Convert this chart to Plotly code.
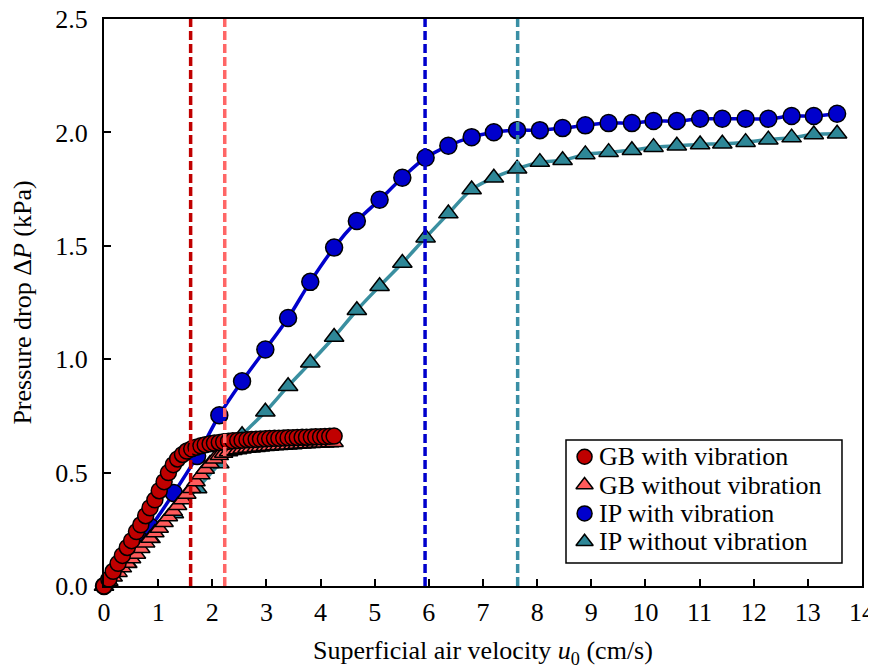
import plotly.graph_objects as go

# ---- data ----
gb_x = [0, 0.09, 0.17, 0.26, 0.34, 0.43, 0.51, 0.60, 0.68, 0.77, 0.85, 0.94, 1.02, 1.11, 1.19,
        1.28, 1.36, 1.45, 1.53, 1.62, 1.70, 1.79, 1.87, 1.96, 2.04, 2.13, 2.21, 2.30, 2.38, 2.47,
        2.55, 2.64, 2.72, 2.81, 2.89, 2.98, 3.06, 3.15, 3.23, 3.32, 3.40, 3.49, 3.57, 3.66, 3.74,
        3.83, 3.91, 4.00, 4.08, 4.17, 4.25]
gb_with = [0, 0.03, 0.065, 0.10, 0.135, 0.17, 0.20, 0.24, 0.27, 0.31, 0.345, 0.38, 0.42, 0.46, 0.50,
           0.535, 0.56, 0.58, 0.595, 0.605, 0.612, 0.618, 0.623, 0.627, 0.630, 0.633, 0.636, 0.638,
           0.640, 0.642, 0.643, 0.645, 0.646, 0.647, 0.648, 0.649, 0.650, 0.651, 0.652, 0.653, 0.654,
           0.654, 0.655, 0.656, 0.656, 0.657, 0.658, 0.658, 0.659, 0.660, 0.661]
gb_without = [0, 0.02, 0.04, 0.06, 0.08, 0.10, 0.12, 0.14, 0.165, 0.19, 0.21, 0.235, 0.255, 0.28, 0.305,
              0.33, 0.355, 0.38, 0.405, 0.43, 0.46, 0.49, 0.515, 0.54, 0.56, 0.575, 0.585, 0.592,
              0.597, 0.601, 0.604, 0.607, 0.609, 0.611, 0.613, 0.615, 0.616, 0.618, 0.619, 0.621, 0.622,
              0.623, 0.625, 0.626, 0.627, 0.628, 0.629, 0.630, 0.631, 0.632, 0.633]

ip_x = [0, 0.43, 0.86, 1.29, 1.72, 2.13, 2.55, 2.98, 3.40, 3.81, 4.25, 4.67, 5.09, 5.51, 5.94, 6.36,
        6.79, 7.20, 7.63, 8.05, 8.47, 8.89, 9.32, 9.75, 10.15, 10.58, 11.01, 11.42, 11.85, 12.27,
        12.70, 13.11, 13.54]
ip_with = [0, 0.13, 0.26, 0.41, 0.573, 0.753, 0.903, 1.043, 1.182, 1.341, 1.492, 1.609, 1.703, 1.800,
           1.888, 1.941, 1.979, 2.001, 2.010, 2.010, 2.019, 2.031, 2.041, 2.041, 2.050, 2.050, 2.060,
           2.060, 2.060, 2.060, 2.072, 2.072, 2.082]
ip_without = [0, 0.10, 0.21, 0.32, 0.43, 0.54, 0.665, 0.768, 0.881, 0.984, 1.098, 1.216, 1.322, 1.424,
              1.536, 1.642, 1.748, 1.800, 1.840, 1.869, 1.877, 1.903, 1.913, 1.921, 1.935, 1.941, 1.947,
              1.950, 1.957, 1.968, 1.977, 1.991, 1.994]

# transition velocities (dashed lines): GB with, GB without, IP with, IP without
u_mf = [1.60, 2.23, 5.93, 7.64]

names = ["GB with vibration", "GB without vibration", "IP with vibration", "IP without vibration"]
symbols = ["circle", "triangle-up", "circle", "triangle-up"]
colors = ["#C00000", "#FF5B5B", "#0000CC", "#2E8797"]
line_colors = ["#C00000", "#FF5B5B", "#0000CC", "#3A8FA0"]
dash_colors = ["#C00000", "#FF6666", "#0000CC", "#3A8FA5"]

FONT = "Liberation Serif, Times New Roman, serif"
FS = 26

fig = go.Figure()

# IP smooth lines
fig.add_trace(go.Scatter(x=ip_x, y=ip_without, mode="lines", line=dict(color=line_colors[3], width=3.5, shape="spline"),
                         showlegend=False, hoverinfo="skip", cliponaxis=False))
fig.add_trace(go.Scatter(x=ip_x, y=ip_with, mode="lines", line=dict(color=line_colors[2], width=3.5, shape="spline"),
                         showlegend=False, hoverinfo="skip", cliponaxis=False))

mk_line = dict(color="black", width=1.5)
series = [(ip_x, ip_without, 3, 17), (ip_x, ip_with, 2, 17), (gb_x, gb_without, 1, 16), (gb_x, gb_with, 0, 16)]
for xs, ys, i, sz in series:
    fig.add_trace(go.Scatter(x=xs, y=ys, mode="markers", name=names[i], showlegend=False,
                             marker=dict(symbol=symbols[i], size=sz, color=colors[i], line=mk_line),
                             cliponaxis=False))

for u, c in zip(u_mf, dash_colors):
    fig.add_shape(type="line", xref="x", yref="paper", x0=u, x1=u, y0=0, y1=1,
                  line=dict(color=c, width=3.5, dash="9px,4px"), layer="above")

# ---- legend (custom, to match compact row spacing) ----
leg_box = dict(x0=0.6095, x1=0.9736, y0=0.0406, y1=0.2575)
leg_marker_x = 0.634
leg_text_x = 0.651
leg_rows = [0.228, 0.178, 0.128, 0.078]

fig.add_shape(type="rect", xref="paper", yref="paper", layer="below",
              fillcolor="white", line=dict(color="black", width=1.5), **leg_box)
fig.add_trace(go.Scatter(x=[leg_marker_x] * 4, y=leg_rows, mode="markers", xaxis="x2", yaxis="y2",
                         showlegend=False, hoverinfo="skip", cliponaxis=False,
                         marker=dict(symbol=symbols, size=15, color=colors, line=mk_line)))
for nm, yy in zip(names, leg_rows):
    fig.add_annotation(x=leg_text_x, y=yy, xref="paper", yref="paper", text=nm, showarrow=False,
                       xanchor="left", yanchor="middle", font=dict(family=FONT, size=FS, color="black"))

axis_common = dict(showline=True, linecolor="black", linewidth=2, mirror=True,
                   ticks="inside", ticklen=7, tickwidth=2, tickcolor="black",
                   showgrid=False, zeroline=False, automargin=False,
                   ticklabeloverflow="allow",
                   tickfont=dict(family=FONT, size=FS, color="black"))

fig.update_xaxes(range=[0, 14], dtick=1, tick0=0, ticklabelstandoff=2,
                 title=dict(text="Superficial air velocity <i>u</i><sub>0</sub> (cm/s)",
                            font=dict(family=FONT, size=FS, color="black"), standoff=15),
                 **axis_common)
fig.update_yaxes(range=[0, 2.5], dtick=0.5, tick0=0, tickformat=".1f", ticklabelstandoff=9,
                 title=dict(text="Pressure drop Δ<i>P</i> (kPa)",
                            font=dict(family=FONT, size=FS, color="black"), standoff=20),
                 **axis_common)

fig.update_layout(
    width=868, height=662,
    margin=dict(l=96, r=14, t=11, b=84),
    plot_bgcolor="white", paper_bgcolor="white",
    font=dict(family=FONT, size=FS, color="black"),
    showlegend=False,
    xaxis2=dict(overlaying="x", range=[0, 1], visible=False, fixedrange=True),
    yaxis2=dict(overlaying="y", range=[0, 1], visible=False, fixedrange=True),
)

fig.write_html("out.html")
